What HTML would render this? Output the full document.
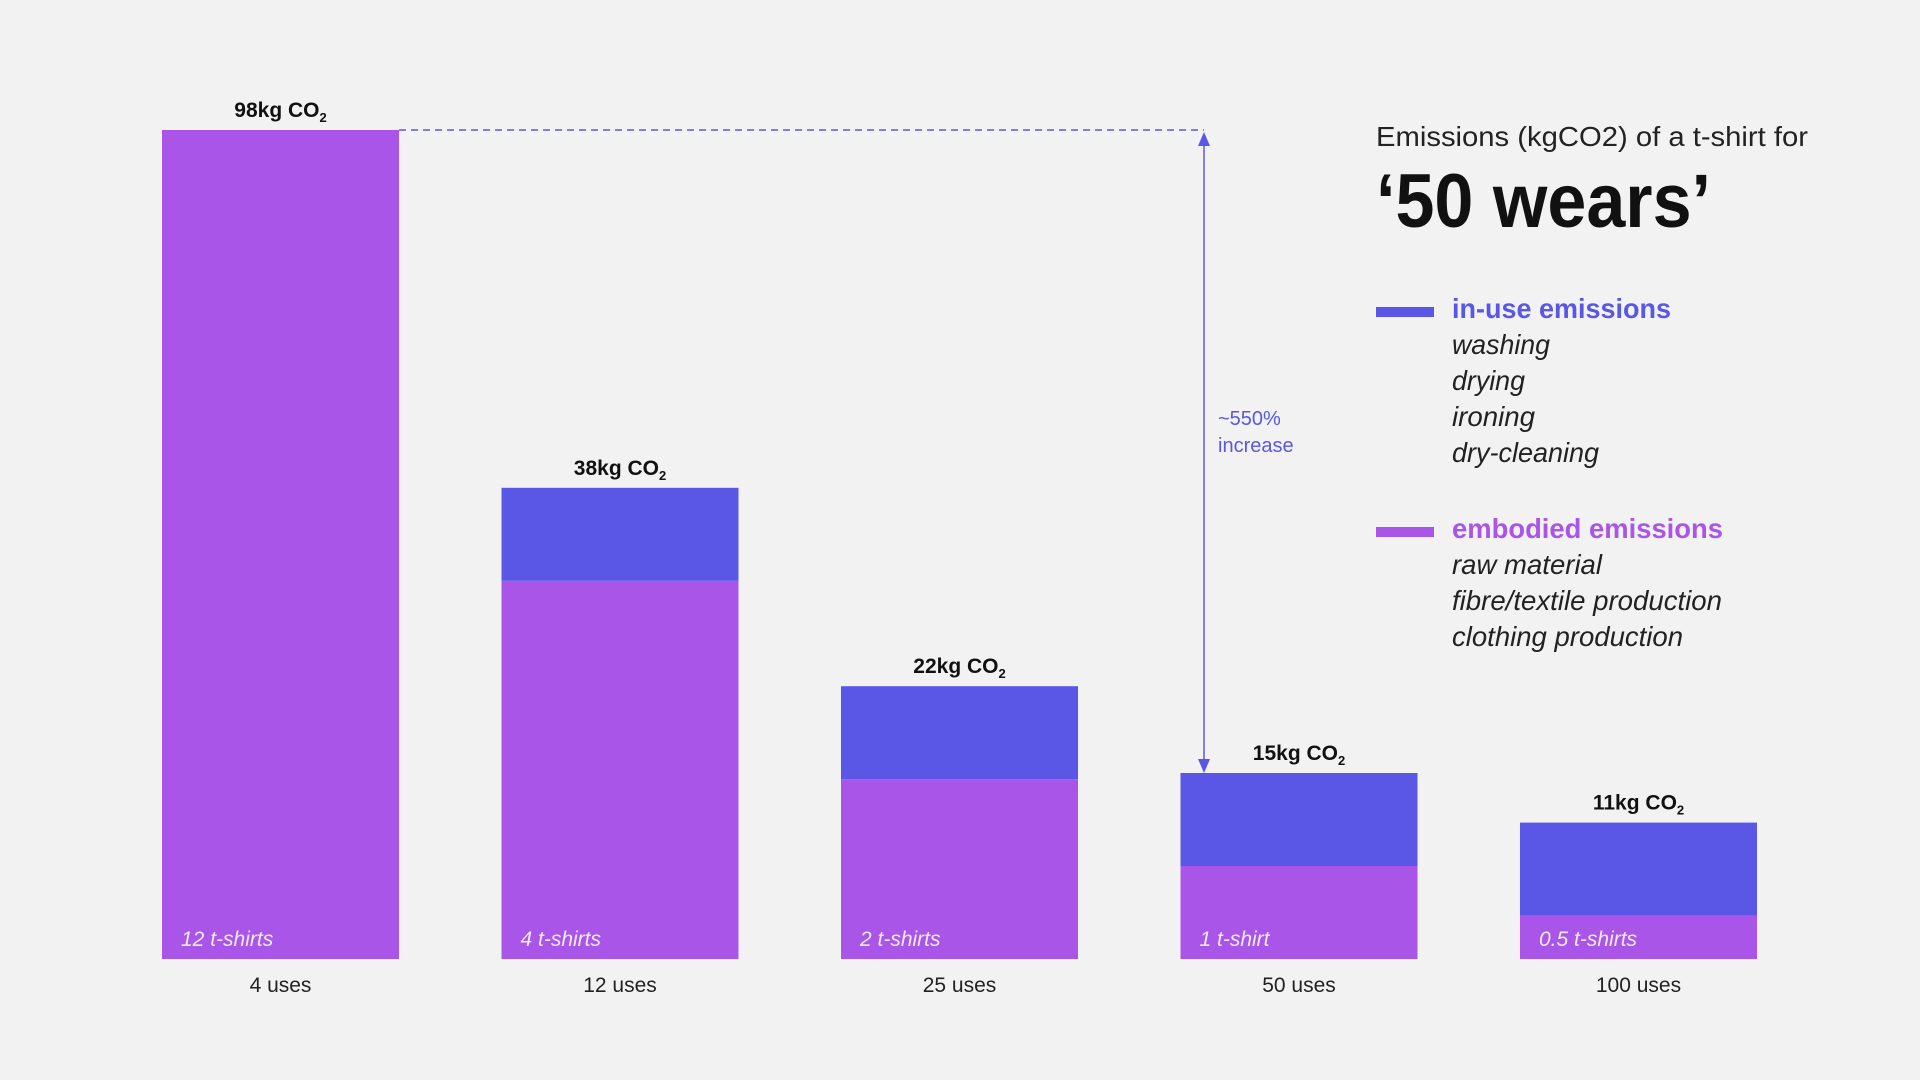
<!DOCTYPE html>
<html><head><meta charset="utf-8"><style>
html,body{margin:0;padding:0;background:#f2f2f2;}
svg{display:block;font-family:"Liberation Sans",sans-serif;}
</style></head><body>
<svg id="chart" width="1920" height="1080" viewBox="0 0 1920 1080" xmlns="http://www.w3.org/2000/svg">
<rect width="1920" height="1080" fill="#f2f2f2"/>
<g id="bars"></g>
<g>
<line x1="399" y1="130" x2="1204" y2="130" stroke="#5a57e6" stroke-width="1.5" stroke-dasharray="7,5"/>
<line x1="1204" y1="140" x2="1204" y2="764" stroke="#5a57e6" stroke-width="1.5"/>
<path d="M1198,146 L1204,132 L1210,146 Z" fill="#5a57e6"/>
<path d="M1198,759 L1204,773 L1210,759 Z" fill="#5a57e6"/>
<text x="1218" y="425" font-size="20" fill="#5a57e6">~550%</text>
<text x="1218" y="452" font-size="20" fill="#5a57e6">increase</text>
</g>
<g>
<text x="1376" y="146" font-size="28" fill="#222" textLength="432" lengthAdjust="spacingAndGlyphs">Emissions (kgCO2) of a t-shirt for</text>
<text x="1376" y="227" font-size="76" font-weight="bold" fill="#111" textLength="335" lengthAdjust="spacingAndGlyphs">‘50 wears’</text>
</g>
<g>
<rect x="1376" y="307" width="58" height="10" fill="#5a57e6"/>
<text x="1452" y="318" font-size="28" font-weight="bold" fill="#5a57e6" textLength="219" lengthAdjust="spacingAndGlyphs">in-use emissions</text>
<g font-size="28" font-style="italic" fill="#222">
<text x="1452" y="354" textLength="98" lengthAdjust="spacingAndGlyphs">washing</text>
<text x="1452" y="390" textLength="73" lengthAdjust="spacingAndGlyphs">drying</text>
<text x="1452" y="426" textLength="83" lengthAdjust="spacingAndGlyphs">ironing</text>
<text x="1452" y="462" textLength="147" lengthAdjust="spacingAndGlyphs">dry-cleaning</text>
</g>
<rect x="1376" y="527" width="58" height="10" fill="#a855e8"/>
<text x="1452" y="538" font-size="28" font-weight="bold" fill="#a855e8" textLength="271" lengthAdjust="spacingAndGlyphs">embodied emissions</text>
<g font-size="28" font-style="italic" fill="#222">
<text x="1452" y="574" textLength="150" lengthAdjust="spacingAndGlyphs">raw material</text>
<text x="1452" y="610" textLength="270" lengthAdjust="spacingAndGlyphs">fibre/textile production</text>
<text x="1452" y="646" textLength="231" lengthAdjust="spacingAndGlyphs">clothing production</text>
</g>
</g>
</svg>
<script>
const categories = ["4 uses", "12 uses", "25 uses", "50 uses", "100 uses"];
const shirtLabels = ["12 t-shirts", "4 t-shirts", "2 t-shirts", "1 t-shirt", "0.5 t-shirts"];
const totalValues = [98, 38, 22, 15, 11];
const inUseValues = [7.5, 7.5, 7.5, 7.5, 7.5];
const embodiedValues = [90.5, 30.5, 14.5, 7.5, 3.5];

const NS = "http://www.w3.org/2000/svg";
const baseY = 959, topY = 130, pxPerKg = 12.4;
const firstX = 162, step = 339.5, barW = 237;
function xPos(i){ return firstX + i*step; }
function yPos(v){ return Math.max(topY, baseY - v*pxPerKg); }
const g = document.getElementById('bars');
function mk(tag, attrs){ const e=document.createElementNS(NS,tag); for(const k in attrs) e.setAttribute(k,attrs[k]); return e; }

categories.forEach((c,i)=>{
  const x = xPos(i);
  const yEmb = yPos(embodiedValues[i]);
  const yTop = yPos(embodiedValues[i] + inUseValues[i]);
  const emb = mk('rect',{x:x,y:yEmb,width:barW,height:baseY-yEmb,fill:'#a855e8'});
  
  
  g.appendChild(emb);
  const use = mk('rect',{x:x,y:yTop,width:barW,height:yEmb-yTop,fill:'#5a57e6'});
  
  
  g.appendChild(use);
  const lbl = mk('text',{x:x+barW/2,y:yTop-13,'font-size':21,'font-weight':'bold','text-anchor':'middle',fill:'#111'});
  lbl.innerHTML = totalValues[i] + 'kg CO<tspan font-size="13" dy="5">2</tspan>';
  
  
  g.appendChild(lbl);
  const sh = mk('text',{x:x+19,y:946,'font-size':21,'font-style':'italic',fill:'#f3e9ff'});
  sh.textContent = shirtLabels[i];
  
  
  g.appendChild(sh);
  const cl = mk('text',{x:x+barW/2,y:992,'font-size':21,'text-anchor':'middle',fill:'#222'});
  cl.textContent = c;
  
  
  g.appendChild(cl);
});
</script>
</body></html>
